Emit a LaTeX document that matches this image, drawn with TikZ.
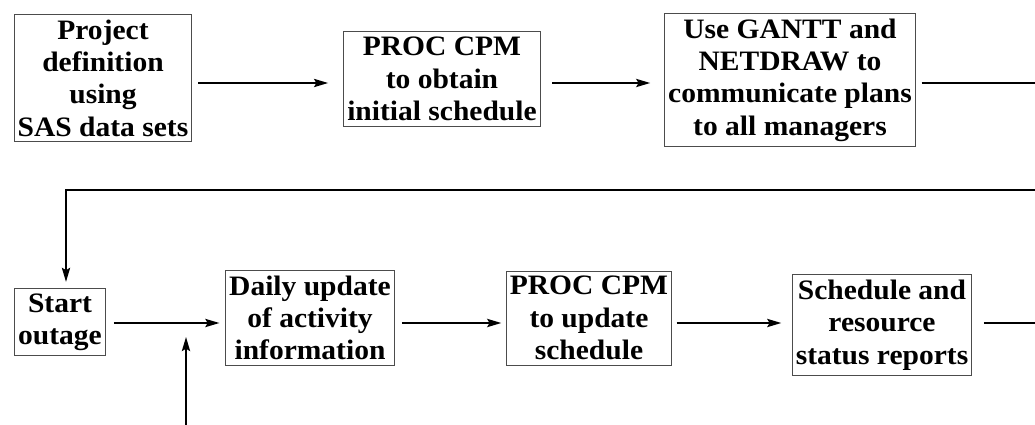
\documentclass[tikz,border=0pt]{standalone}
\usepackage{fontspec}
\setmainfont{Liberation Serif}[FakeStretch=1.05]
\usetikzlibrary{arrows,arrows.meta,shapes,chains}

\begin{document}
\begin{tikzpicture}[x=0.03cm,y=-0.03cm,->,>={Stealth[length=12pt,width=7pt,inset=2pt]},semithick,
    box/.style={draw=black!70,line width=0.7pt,align=center,inner xsep=3pt,inner ysep=4.5pt,
        font=\fontsize{24}{27.6}\selectfont\bfseries},
    flow/.style={line width=1.6pt}]
                \useasboundingbox (0,0) rectangle (1035,425);
                \node[box](define)at(103, 78){Project\\definition\\using\\SAS data sets};
                \node[box](cpm)at(442, 79){PROC CPM\\to obtain\\initial schedule};
                \node[box](gantt)at(790, 80){Use GANTT and\\NETDRAW to\\communicate plans\\to all managers};
                \node[box](start)at(60, 322){Start\\outage};
                \node[box](daily)at(310, 318){Daily update\\of activity\\information};
                \node[box](update)at(589, 318){PROC CPM\\to update\\schedule};
                \node[box](reports)at(882, 325){Schedule and\\resource\\status reports};
                \coordinate(out1)at(1035, 83);
                \coordinate(back)at(1035, 190);
                \coordinate(turn)at(66, 190);
                \coordinate(out2)at(1035, 323);
                \coordinate(feed)at(186, 425);
                \coordinate(join)at(186, 337);
                % top row
                \path[flow](define.east |- out1) edge [shorten <=5pt,shorten >=13pt] (cpm.west |- out1)
                (cpm.east |- out1) edge [shorten <=10pt,shorten >=12pt] (gantt.west |- out1)
                (gantt.east |- out1) edge [-,shorten <=5pt] (out1);
                % back to second row
                \draw[flow,shorten >=5pt](back) -- (turn) -- (turn |- start.north);
                % second row
                \path[flow](start.east |- out2) edge [shorten <=7pt,shorten >=5pt] (daily.west |- out2)
                (daily.east |- out2) edge [shorten <=6pt,shorten >=4pt] (update.west |- out2)
                (update.east |- out2) edge [shorten <=4pt,shorten >=9pt] (reports.west |- out2)
                (reports.east |- out2) edge [-,shorten <=10pt] (out2)
                (feed) edge (join);
            \end{tikzpicture}
\end{document}
